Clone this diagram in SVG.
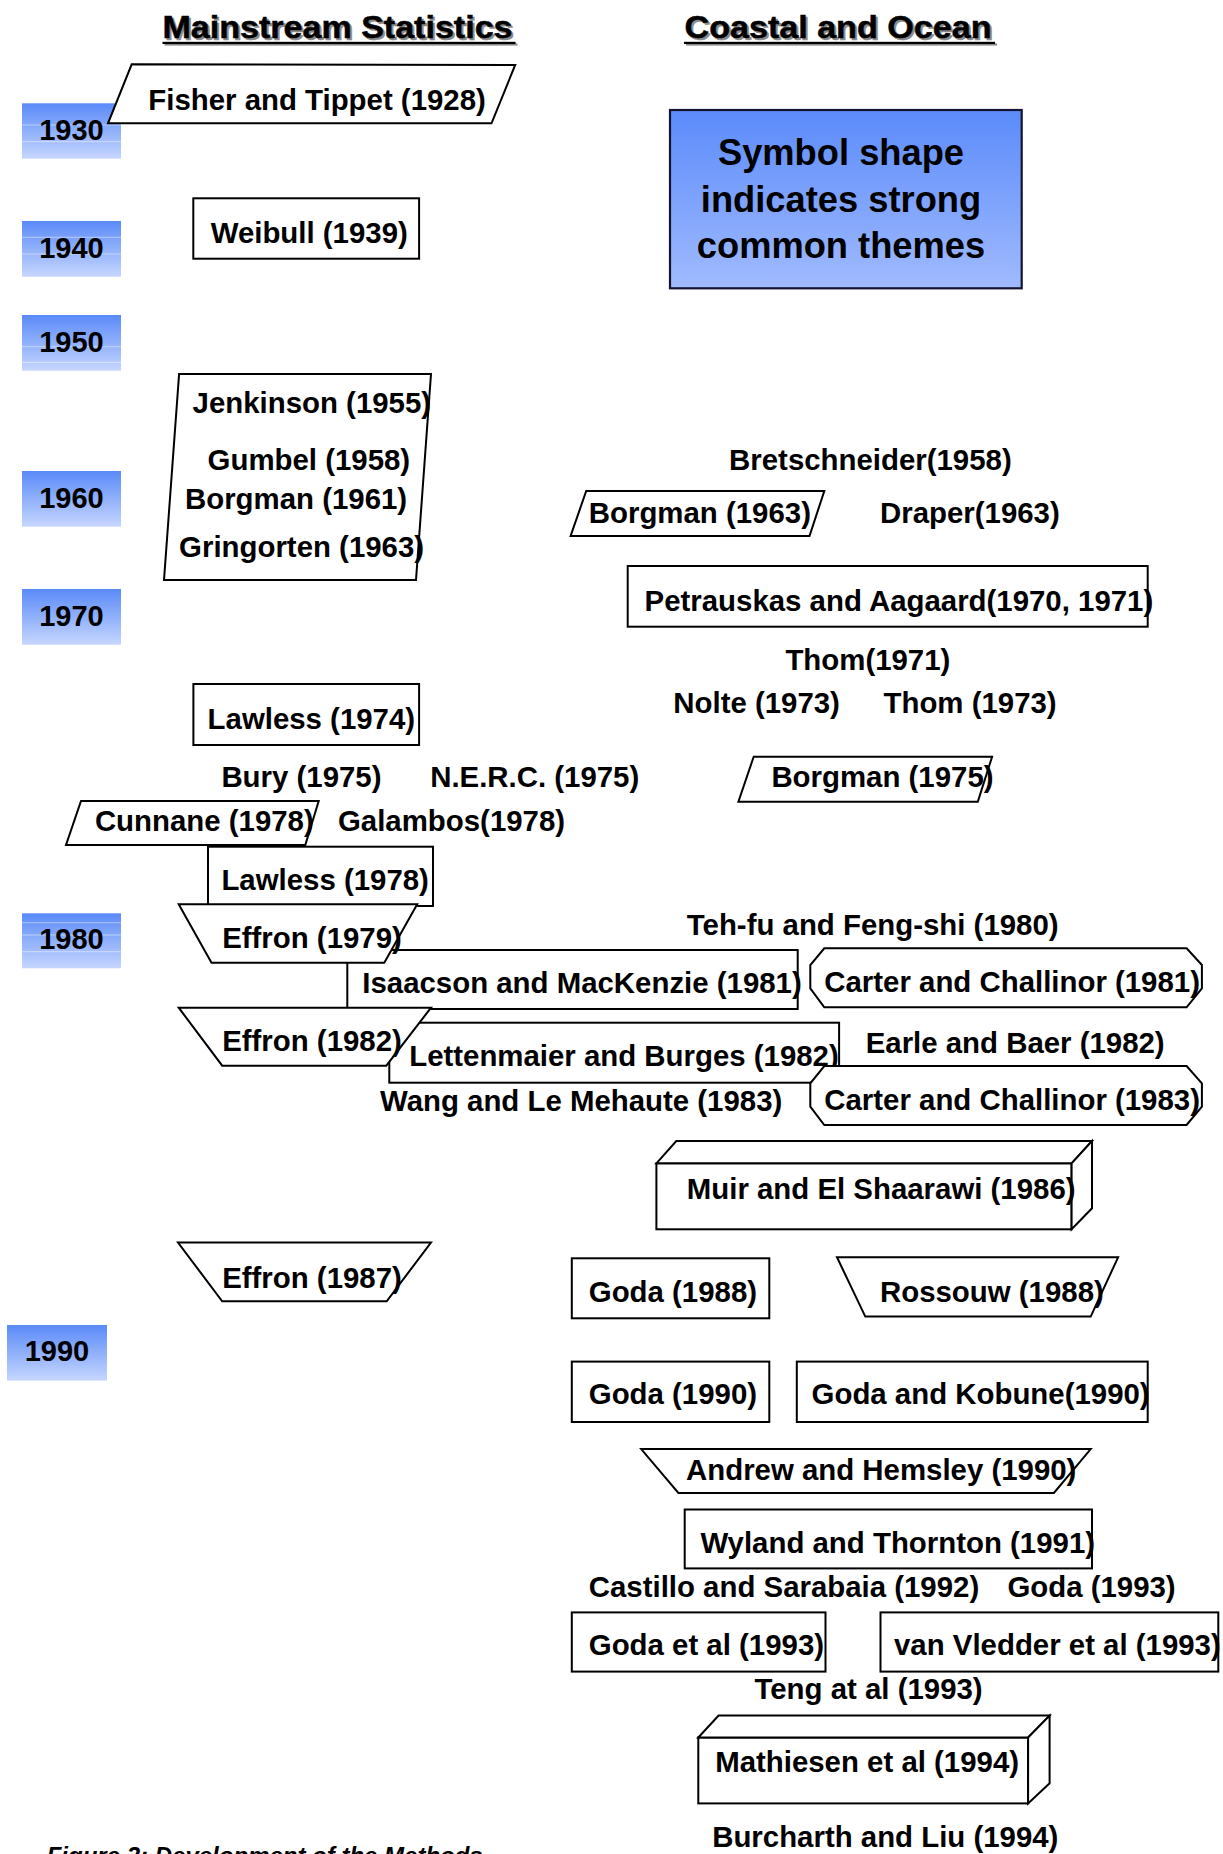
<svg xmlns="http://www.w3.org/2000/svg" width="1223" height="1854" viewBox="0 0 1223 1854">
<defs>
<linearGradient id="yearGrad" x1="0" y1="0" x2="0" y2="1">
<stop offset="0" stop-color="#5a8af8"/>
<stop offset="1" stop-color="#c6d6ff"/>
</linearGradient>
<linearGradient id="legendGrad" x1="0" y1="0" x2="0" y2="1">
<stop offset="0" stop-color="#5b8bfa"/>
<stop offset="1" stop-color="#a0bafe"/>
</linearGradient>
<style>
.t{font-family:'Liberation Sans',Arial,Helvetica,sans-serif;font-weight:bold;font-size:29.4px;fill:#000}
.yr{font-family:'Liberation Sans',Arial,Helvetica,sans-serif;font-weight:bold;font-size:29px;fill:#000;text-anchor:middle}
.title{font-family:'Liberation Sans',Arial,Helvetica,sans-serif;font-weight:bold;font-size:31px;stroke-width:0.5}
.shape{fill:#fff;stroke:#000;stroke-width:2;stroke-linejoin:miter}
.year{fill:url(#yearGrad)}
.band{stroke:#fff;stroke-opacity:0.45;stroke-width:1}
.legend-t{font-family:'Liberation Sans',Arial,Helvetica,sans-serif;font-weight:bold;font-size:36.3px;fill:#000;text-anchor:middle}
.cap{font-family:'Liberation Sans',Arial,Helvetica,sans-serif;font-weight:bold;font-style:italic;font-size:24px;fill:#000}
</style>
</defs>
<rect width="1223" height="1854" fill="#fff"/>

<!-- Titles -->
<g id="title-mainstream">
<text class="title" x="164.5" y="40" textLength="350" lengthAdjust="spacingAndGlyphs" fill="#8a8a8a" stroke="#8a8a8a">Mainstream Statistics</text>
<rect x="164.5" y="43.4" width="353" height="2.2" fill="#8a8a8a"/>
<text class="title" x="162.5" y="38.3" textLength="350" lengthAdjust="spacingAndGlyphs" fill="#000" stroke="#000">Mainstream Statistics</text>
<rect x="162.5" y="41.8" width="353" height="2.2" fill="#000"/>
</g>
<g id="title-coastal">
<text class="title" x="686.5" y="40" textLength="307" lengthAdjust="spacingAndGlyphs" fill="#8a8a8a" stroke="#8a8a8a">Coastal and Ocean</text>
<rect x="686" y="43.4" width="311" height="2.2" fill="#8a8a8a"/>
<text class="title" x="684.5" y="38.3" textLength="307" lengthAdjust="spacingAndGlyphs" fill="#000" stroke="#000">Coastal and Ocean</text>
<rect x="684" y="41.8" width="311" height="2.2" fill="#000"/>
</g>

<!-- Year markers -->
<g id="year-1930">
<rect class="year" x="22" y="103.3" width="99" height="55.4"/>
<line class="band" x1="22" y1="125" x2="121" y2="125"/>
<line class="band" x1="22" y1="141.7" x2="121" y2="141.7"/>
<text class="yr" x="71.5" y="140">1930</text>
</g>
<g id="year-1940">
<rect class="year" x="22" y="221" width="99" height="55.7"/>
<line class="band" x1="22" y1="237.3" x2="121" y2="237.3"/>
<line class="band" x1="22" y1="254" x2="121" y2="254"/>
<text class="yr" x="71.5" y="257.7">1940</text>
</g>
<g id="year-1950">
<rect class="year" x="22" y="315" width="99" height="55.7"/>
<line class="band" x1="22" y1="346.7" x2="121" y2="346.7"/>
<line class="band" x1="22" y1="362.5" x2="121" y2="362.5"/>
<text class="yr" x="71.5" y="352.3">1950</text>
</g>
<g id="year-1960">
<rect class="year" x="22" y="471" width="99" height="55.7"/>
<text class="yr" x="71.5" y="507.7">1960</text>
</g>
<g id="year-1970">
<rect class="year" x="22" y="589" width="99" height="55.7"/>
<text class="yr" x="71.5" y="626">1970</text>
</g>
<g id="year-1980">
<rect class="year" x="22" y="913.3" width="99" height="55"/>
<line class="band" x1="22" y1="922.7" x2="121" y2="922.7"/>
<line class="band" x1="22" y1="935" x2="121" y2="935"/>
<line class="band" x1="22" y1="951.7" x2="121" y2="951.7"/>
<text class="yr" x="71.5" y="949.3">1980</text>
</g>
<g id="year-1990">
<rect class="year" x="7" y="1325" width="100" height="55.6"/>
<text class="yr" x="57" y="1360.5">1990</text>
</g>

<!-- Legend -->
<g id="legend">
<rect x="670" y="110" width="351.7" height="178.3" fill="url(#legendGrad)" stroke="#141432" stroke-width="2.2"/>
<text class="legend-t" x="841" y="165">Symbol shape</text>
<text class="legend-t" x="841" y="211.7">indicates strong</text>
<text class="legend-t" x="841" y="258.3">common themes</text>
</g>

<g id="connectors"></g>

<!-- Mainstream statistics nodes -->
<g id="fisher-1928">
<polygon class="shape" points="131.7,64.3 515.2,65 491.5,123.3 108,123.3"/>
<text class="t" x="148.3" y="110">Fisher and Tippet (1928)</text>
</g>
<g id="weibull-1939">
<rect class="shape" x="193.3" y="198.3" width="225.8" height="60.4"/>
<text class="t" x="210.7" y="242.7">Weibull (1939)</text>
</g>
<g id="group-1955-1963">
<polygon class="shape" points="179.1,374 431,374 416,580 164,580"/>
<text class="t" x="192.6" y="413.3">Jenkinson (1955)</text>
<text class="t" x="207.6" y="470">Gumbel (1958)</text>
<text class="t" x="185" y="509.3">Borgman (1961)</text>
<text class="t" x="179.1" y="557.3">Gringorten (1963)</text>
</g>
<g id="lawless-1974">
<rect class="shape" x="193.4" y="684" width="225.7" height="61"/>
<text class="t" x="207.6" y="729">Lawless (1974)</text>
</g>
<g id="bury-1975"><text class="t" x="221.4" y="786.7">Bury (1975)</text></g>
<g id="nerc-1975"><text class="t" x="430.2" y="786.7">N.E.R.C. (1975)</text></g>
<g id="cunnane-1978">
<polygon class="shape" points="81,801 318.7,801 305.3,845 66,845"/>
<text class="t" x="94.9" y="830.7">Cunnane (1978)</text>
</g>
<g id="galambos-1978"><text class="t" x="338" y="830.7">Galambos(1978)</text></g>
<g id="lawless-1978">
<rect class="shape" x="208" y="846.7" width="225" height="59.3"/>
<text class="t" x="221.4" y="890">Lawless (1978)</text>
</g>
<g id="isaacson-1981">
<rect class="shape" x="347.3" y="950" width="450.4" height="59"/>
<text class="t" x="362.3" y="992.5">Isaacson and MacKenzie (1981)</text>
</g>
<g id="effron-1979">
<polygon class="shape" points="178.7,904.3 417.2,904.3 384.3,962.7 211.5,962.7"/>
<text class="t" x="222.2" y="948.3">Effron (1979)</text>
</g>
<g id="lettenmaier-1982">
<rect class="shape" x="389.3" y="1022.7" width="449.8" height="60"/>
<text class="t" x="409.2" y="1066.3">Lettenmaier and Burges (1982)</text>
</g>
<g id="effron-1982">
<polygon class="shape" points="178.7,1007.7 431,1007.7 386.3,1065.7 222.2,1065.7"/>
<text class="t" x="222.2" y="1050.7">Effron (1982)</text>
</g>
<g id="wang-1983"><text class="t" x="380" y="1111">Wang and Le Mehaute (1983)</text></g>
<g id="effron-1987">
<polygon class="shape" points="178,1242.5 431,1242.5 386.7,1301.3 222.2,1301.3"/>
<text class="t" x="222.2" y="1287.6">Effron (1987)</text>
</g>

<!-- Coastal and ocean nodes -->
<g id="bretschneider-1958"><text class="t" x="729.1" y="470">Bretschneider(1958)</text></g>
<g id="borgman-1963">
<polygon class="shape" points="586.2,491 824.3,491 809.5,536 570.6,536"/>
<text class="t" x="588.8" y="522.7">Borgman (1963)</text>
</g>
<g id="draper-1963"><text class="t" x="880" y="522.7">Draper(1963)</text></g>
<g id="petrauskas-1970">
<rect class="shape" x="627.7" y="566" width="520" height="60.7"/>
<text class="t" x="644.6" y="610.7">Petrauskas and Aagaard(1970, 1971)</text>
</g>
<g id="thom-1971"><text class="t" x="785.4" y="670">Thom(1971)</text></g>
<g id="nolte-1973"><text class="t" x="673.3" y="713.3">Nolte (1973)</text></g>
<g id="thom-1973"><text class="t" x="883.5" y="713.3">Thom (1973)</text></g>
<g id="borgman-1975">
<polygon class="shape" points="753.7,756.7 992.1,756.7 977.8,801.7 738.4,801.7"/>
<text class="t" x="771.4" y="786.7">Borgman (1975)</text>
</g>
<g id="tehfu-1980"><text class="t" x="686.8" y="935">Teh-fu and Feng-shi (1980)</text></g>
<g id="carter-1981">
<polygon class="shape" points="824.3,948.3 1186.6,948.3 1201.9,965 1201.9,988.3 1186.6,1007.3 824.3,1007.3 810.3,988.3 810.3,965"/>
<text class="t" x="824.3" y="991.7">Carter and Challinor (1981)</text>
</g>
<g id="earle-1982"><text class="t" x="865.7" y="1052.7">Earle and Baer (1982)</text></g>
<g id="carter-1983">
<polygon class="shape" points="824.3,1066 1186.6,1066 1201.9,1083.3 1201.9,1106.7 1186.6,1125 824.3,1125 810.3,1106.7 810.3,1083.3"/>
<text class="t" x="824.3" y="1110">Carter and Challinor (1983)</text>
</g>
<g id="muir-1986">
<rect class="shape" x="656.4" y="1163.3" width="415.2" height="66"/>
<polygon class="shape" points="656.4,1163.3 676.3,1141 1092,1141 1071.6,1163.3"/>
<polygon class="shape" points="1071.6,1163.3 1092,1141 1092,1208.3 1071.6,1229.3"/>
<text class="t" x="686.8" y="1199.3">Muir and El Shaarawi (1986)</text>
</g>
<g id="goda-1988">
<rect class="shape" x="571.8" y="1258.3" width="197.5" height="60"/>
<text class="t" x="588.8" y="1302">Goda (1988)</text>
</g>
<g id="rossouw-1988">
<polygon class="shape" points="837,1257.3 1118.1,1257.3 1090.7,1316.6 865.3,1316.6"/>
<text class="t" x="880" y="1302">Rossouw (1988)</text>
</g>
<g id="goda-1990">
<rect class="shape" x="571.8" y="1361.6" width="197.5" height="60.4"/>
<text class="t" x="588.8" y="1404.4">Goda (1990)</text>
</g>
<g id="goda-kobune-1990">
<rect class="shape" x="796.8" y="1361.6" width="350.9" height="60.4"/>
<text class="t" x="811.6" y="1404.4">Goda and Kobune(1990)</text>
</g>
<g id="andrew-1990">
<polygon class="shape" points="641.2,1449.1 1090.7,1449.1 1053.9,1493 678.4,1493"/>
<text class="t" x="686" y="1479.5">Andrew and Hemsley (1990)</text>
</g>
<g id="wyland-1991">
<rect class="shape" x="684.7" y="1509.5" width="407.3" height="58.9"/>
<text class="t" x="700.4" y="1552.7">Wyland and Thornton (1991)</text>
</g>
<g id="castillo-1992"><text class="t" x="588.8" y="1596.6">Castillo and Sarabaia (1992)</text></g>
<g id="goda-1993"><text class="t" x="1007.4" y="1596.6">Goda (1993)</text></g>
<g id="goda-etal-1993">
<rect class="shape" x="571.8" y="1612.4" width="253.7" height="59.2"/>
<text class="t" x="588.8" y="1655.2">Goda et al (1993)</text>
</g>
<g id="vanvledder-1993">
<rect class="shape" x="880.5" y="1612.4" width="337.8" height="59.2"/>
<text class="t" x="894" y="1655.2">van Vledder et al (1993)</text>
</g>
<g id="teng-1993"><text class="t" x="754.5" y="1699">Teng at al (1993)</text></g>
<g id="mathiesen-1994">
<rect class="shape" x="698.3" y="1737.5" width="329.8" height="65.9"/>
<polygon class="shape" points="698.3,1737.5 718.6,1715.6 1049.6,1715.6 1028.1,1737.5"/>
<polygon class="shape" points="1028.1,1737.5 1049.6,1715.6 1049.6,1783.3 1028.1,1803.4"/>
<text class="t" x="715.2" y="1772.3">Mathiesen et al (1994)</text>
</g>
<g id="burcharth-1994"><text class="t" x="712.2" y="1847.3">Burcharth and Liu (1994)</text></g>

<g id="caption"><text class="cap" x="46.7" y="1864">Figure 2: Development of the Methods</text></g>
</svg>
